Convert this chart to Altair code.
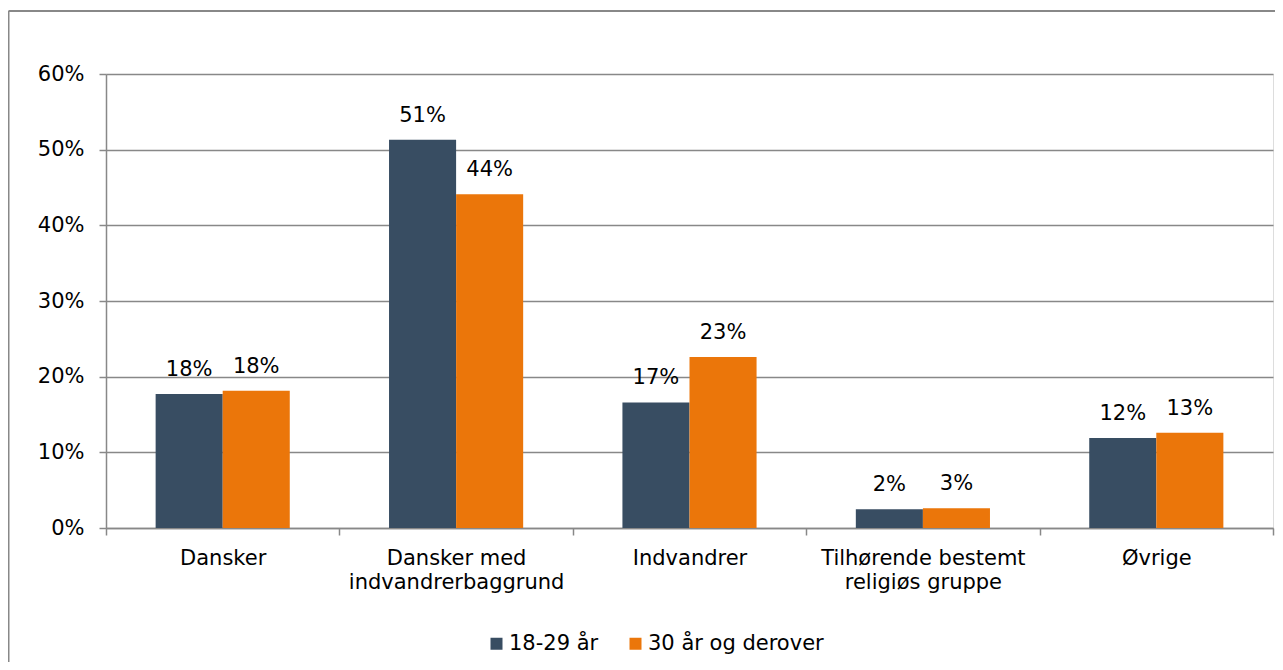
import altair as alt
import pandas as pd

categories = ["Dansker", "Dansker med\nindvandrerbaggrund", "Indvandrer",
              "Tilhørende bestemt\nreligiøs gruppe", "Øvrige"]
series_names = ["18-29 år", "30 år og derover"]
young = [0.177, 0.513, 0.166, 0.0247, 0.119]
older = [0.1815, 0.441, 0.226, 0.026, 0.126]
y_ticks = [0, 0.1, 0.2, 0.3, 0.4, 0.5, 0.6]
colors = ["#384D62", "#EB760A"]

rows = []
for c, a, b in zip(categories, young, older):
    rows.append({"Kategori": c, "Gruppe": series_names[0], "Andel": a})
    rows.append({"Kategori": c, "Gruppe": series_names[1], "Andel": b})
df = pd.DataFrame(rows)

FONT = "DejaVu Sans"
FS = 21
W, H = 1167, 454

x_enc = alt.X("Kategori:N", sort=categories,
              scale=alt.Scale(paddingInner=0, paddingOuter=0),
              axis=alt.Axis(title=None, labelAngle=0, tickBand="extent",
                            labelExpr="datum.value ? split(datum.value, '\\n') : ''",
                            labelFontSize=FS, labelFont=FONT, labelColor="#000000",
                            labelLineHeight=24, labelPadding=12, labelLimit=0,
                            tickSize=7, tickColor="#888888", tickWidth=1.5,
                            domainColor="#888888", domainWidth=1.5, grid=False))
xoff = alt.XOffset("Gruppe:N", sort=series_names,
                   scale=alt.Scale(paddingOuter=0.74, paddingInner=0))
y_enc = alt.Y("Andel:Q", scale=alt.Scale(domain=[0, 0.6], nice=False),
              axis=alt.Axis(title=None, values=y_ticks, format=".0%",
                            labelFontSize=FS, labelFont=FONT, labelColor="#000000",
                            labelPadding=15, tickSize=7, tickColor="#888888",
                            tickWidth=1.5, domainColor="#888888", domainWidth=1.5,
                            grid=True, gridColor="#888888", gridWidth=1.5))
color_enc = alt.Color("Gruppe:N", sort=series_names,
                      scale=alt.Scale(domain=series_names, range=colors),
                      legend=alt.Legend(title=None, orient="none", direction="horizontal",
                                        legendX=380, legendY=559, padding=0,
                                        symbolType="square", symbolSize=144,
                                        symbolStrokeWidth=0, labelFontSize=FS,
                                        labelFont=FONT, labelColor="#000000",
                                        labelLimit=0, labelOffset=2, columnPadding=26))

bars = alt.Chart(df).mark_bar(strokeWidth=0).encode(
    x=x_enc, xOffset=xoff, y=y_enc, color=color_enc)

labels = alt.Chart(df).mark_text(fontSize=FS, font=FONT, color="#000000",
                                 baseline="middle", dy=-24).encode(
    x=alt.X("Kategori:N", sort=categories), xOffset=xoff,
    y="Andel:Q", text=alt.Text("Andel:Q", format=".0%"))

one = pd.DataFrame({"a": [0]})
border_left = alt.Chart(one).mark_rule(color="#888888", strokeWidth=2).encode(
    x=alt.value(-97.5), y=alt.value(-63), y2=alt.value(588))
border_top = alt.Chart(one).mark_rule(color="#888888", strokeWidth=2).encode(
    x=alt.value(-97.5), x2=alt.value(1170), y=alt.value(-63))

chart = alt.layer(border_left, border_top, bars, labels).properties(
    width=W, height=H,
    autosize=alt.AutoSizeParams(type="none"),
    padding={"left": 98, "top": 66, "right": 2, "bottom": 134},
).configure_view(stroke=None).configure(background="#ffffff")

chart.save("out.html", embed_options={"renderer": "svg", "actions": False})
